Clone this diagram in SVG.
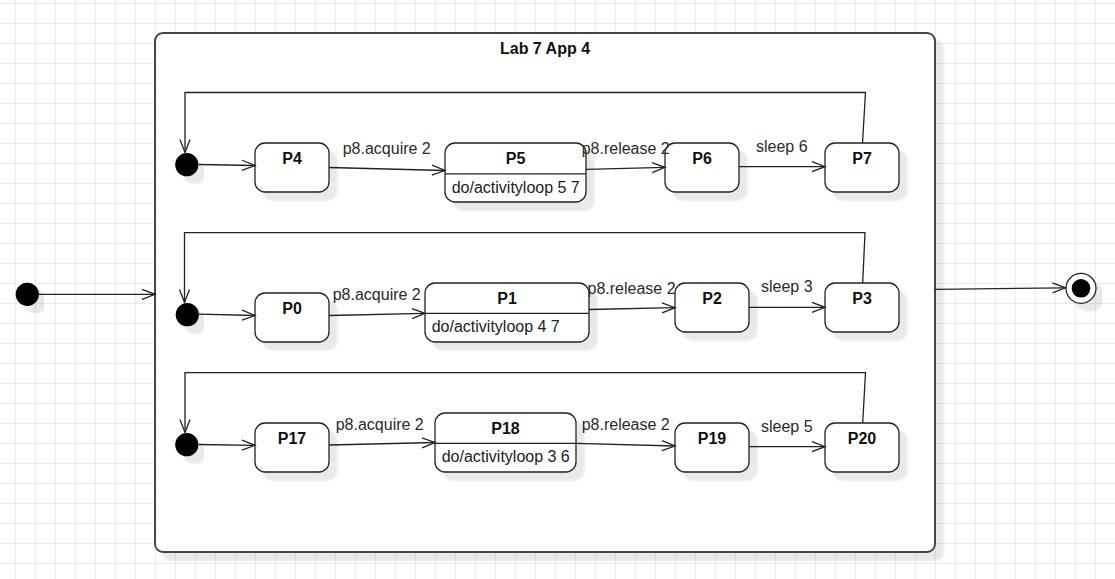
<svg xmlns="http://www.w3.org/2000/svg" width="1115" height="579" viewBox="0 0 1115 579">
  <defs>
    <pattern id="grid" x="15" y="3" width="20" height="20" patternUnits="userSpaceOnUse">
      <path d="M0.5 0 V20 M0 0.5 H20" fill="none" stroke="#ececec" stroke-width="1"/>
    </pattern>
    <filter id="shadow" x="-10%" y="-10%" width="130%" height="140%">
      <feGaussianBlur in="SourceAlpha" stdDeviation="1.2"/>
      <feOffset dx="8" dy="8" result="off"/>
      <feComponentTransfer><feFuncA type="linear" slope="0.09"/></feComponentTransfer>
      <feMerge><feMergeNode/><feMergeNode in="SourceGraphic"/></feMerge>
    </filter>
    <marker id="open" viewBox="-15 -7 17 14" markerWidth="17" markerHeight="14" refX="0" refY="0" orient="auto" markerUnits="userSpaceOnUse">
      <path d="M-13 -5 L0 0 L-13 5" fill="none" stroke="#222" stroke-width="1.3"/>
    </marker>
  </defs>
  <style>
    .state { fill: #fff; stroke: #222; stroke-width: 1.3; }
    .div { stroke: #222; stroke-width: 1.3; }
    .title { font-family: "Liberation Sans", Arial, sans-serif; font-size: 16px; font-weight: bold; fill: #111; text-anchor: middle; }
    .body { font-family: "Liberation Sans", Arial, sans-serif; font-size: 16px; fill: #222; }
    .lbl { font-family: "Liberation Sans", Arial, sans-serif; font-size: 16px; fill: #2a2a2a; }
    .edge { fill: none; stroke: #222; stroke-width: 1.3; marker-end: url(#open); }
    .init { fill: #000; }
  </style>

  <rect width="1115" height="579" fill="#fff"/>
  <rect width="1115" height="579" fill="url(#grid)"/>

  <!-- composite state -->
  <g id="lab7app4" filter="url(#shadow)">
    <rect x="155" y="33" width="780" height="519" rx="8" fill="#fff" stroke="#444" stroke-width="2"/>
  </g>
  <text class="title" x="545" y="54">Lab 7 App 4</text>

  <!-- outer pseudo states -->
  <g id="start" filter="url(#shadow)"><circle class="init" cx="27.3" cy="294.3" r="11.6"/></g>
  <g id="end" filter="url(#shadow)">
    <circle cx="1081" cy="288.3" r="15" fill="#fff" stroke="#222" stroke-width="1.3"/>
    <circle cx="1081" cy="288.3" r="9.3" fill="#000"/>
  </g>

  <!-- region 1 -->
  <g id="init1" filter="url(#shadow)"><circle class="init" cx="186.8" cy="164.7" r="11.6"/></g>
  <g id="P4" filter="url(#shadow)"><rect class="state" x="255" y="143" width="74" height="49" rx="10"/></g>
  <text class="title" x="292" y="163.5">P4</text>
  <g id="P5" filter="url(#shadow)">
    <rect class="state" x="445" y="143" width="141" height="59" rx="10"/>
    <line class="div" x1="445" y1="173.8" x2="586" y2="173.8"/>
  </g>
  <text class="title" x="515.5" y="163.5">P5</text>
  <text class="body" x="451.7" y="192.5">do/activityloop 5 7</text>
  <g id="P6" filter="url(#shadow)"><rect class="state" x="665" y="143" width="74" height="49" rx="10"/></g>
  <text class="title" x="702" y="163.5">P6</text>
  <g id="P7" filter="url(#shadow)"><rect class="state" x="825" y="143" width="74" height="49" rx="10"/></g>
  <text class="title" x="862" y="163.5">P7</text>

  <!-- region 2 -->
  <g id="init2" filter="url(#shadow)"><circle class="init" cx="187.3" cy="314.7" r="11.6"/></g>
  <g id="P0" filter="url(#shadow)"><rect class="state" x="255" y="293" width="74" height="49" rx="10"/></g>
  <text class="title" x="292" y="313.5">P0</text>
  <g id="P1" filter="url(#shadow)">
    <rect class="state" x="425" y="283" width="164" height="59" rx="10"/>
    <line class="div" x1="425" y1="313.3" x2="589" y2="313.3"/>
  </g>
  <text class="title" x="507" y="303.5">P1</text>
  <text class="body" x="431.7" y="331.8">do/activityloop 4 7</text>
  <g id="P2" filter="url(#shadow)"><rect class="state" x="675" y="283" width="74" height="49" rx="10"/></g>
  <text class="title" x="712" y="303.5">P2</text>
  <g id="P3" filter="url(#shadow)"><rect class="state" x="825" y="283" width="74" height="49" rx="10"/></g>
  <text class="title" x="862" y="303.5">P3</text>

  <!-- region 3 -->
  <g id="init3" filter="url(#shadow)"><circle class="init" cx="186.8" cy="444.7" r="11.6"/></g>
  <g id="P17" filter="url(#shadow)"><rect class="state" x="255" y="423" width="74" height="49" rx="10"/></g>
  <text class="title" x="292" y="443.5">P17</text>
  <g id="P18" filter="url(#shadow)">
    <rect class="state" x="435" y="413" width="141" height="59" rx="10"/>
    <line class="div" x1="435" y1="443.3" x2="576" y2="443.3"/>
  </g>
  <text class="title" x="505.5" y="433.5">P18</text>
  <text class="body" x="441.7" y="461.8">do/activityloop 3 6</text>
  <g id="P19" filter="url(#shadow)"><rect class="state" x="675" y="423" width="74" height="49" rx="10"/></g>
  <text class="title" x="712" y="443.5">P19</text>
  <g id="P20" filter="url(#shadow)"><rect class="state" x="825" y="423" width="74" height="49" rx="10"/></g>
  <text class="title" x="862" y="443.5">P20</text>

  <!-- transitions -->
  <g id="connectors">
    <path class="edge" d="M39 294.3 L155 294.3"/>
    <path class="edge" d="M935 289.3 L1065.5 287.8"/>

    <path class="edge" d="M198.5 164.5 L255 165.5"/>
    <path class="edge" d="M329 167.5 L445 170.5"/>
    <path class="edge" d="M586 169.3 L665 167.3"/>
    <path class="edge" d="M739 166.7 L825 166.7"/>
    <path class="edge" d="M862.5 143 L865.5 92.5 L185 92.5 L185 152.5"/>

    <path class="edge" d="M199 314.2 L255 315.5"/>
    <path class="edge" d="M329 315.5 L425 313.3"/>
    <path class="edge" d="M589 309.5 L675 307.7"/>
    <path class="edge" d="M749 307.3 L825 307.3"/>
    <path class="edge" d="M862.7 283 L865 232.7 L184.5 232.7 L184.5 302.5"/>

    <path class="edge" d="M198.5 444.5 L255 445.3"/>
    <path class="edge" d="M329 445 L435 442.5"/>
    <path class="edge" d="M576 443.3 L675 446"/>
    <path class="edge" d="M749 446.7 L825 446.7"/>
    <path class="edge" d="M862.7 423 L865.5 372.7 L185 372.7 L185 432.5"/>

    <text class="lbl" x="342.7" y="154">p8.acquire 2</text>
    <text class="lbl" x="581.7" y="154">p8.release 2</text>
    <text class="lbl" x="756" y="152">sleep 6</text>

    <text class="lbl" x="332.7" y="299.5">p8.acquire 2</text>
    <text class="lbl" x="587.5" y="294">p8.release 2</text>
    <text class="lbl" x="761" y="292">sleep 3</text>

    <text class="lbl" x="335.7" y="429.8">p8.acquire 2</text>
    <text class="lbl" x="581.7" y="430">p8.release 2</text>
    <text class="lbl" x="761" y="431.7">sleep 5</text>
  </g>
</svg>
